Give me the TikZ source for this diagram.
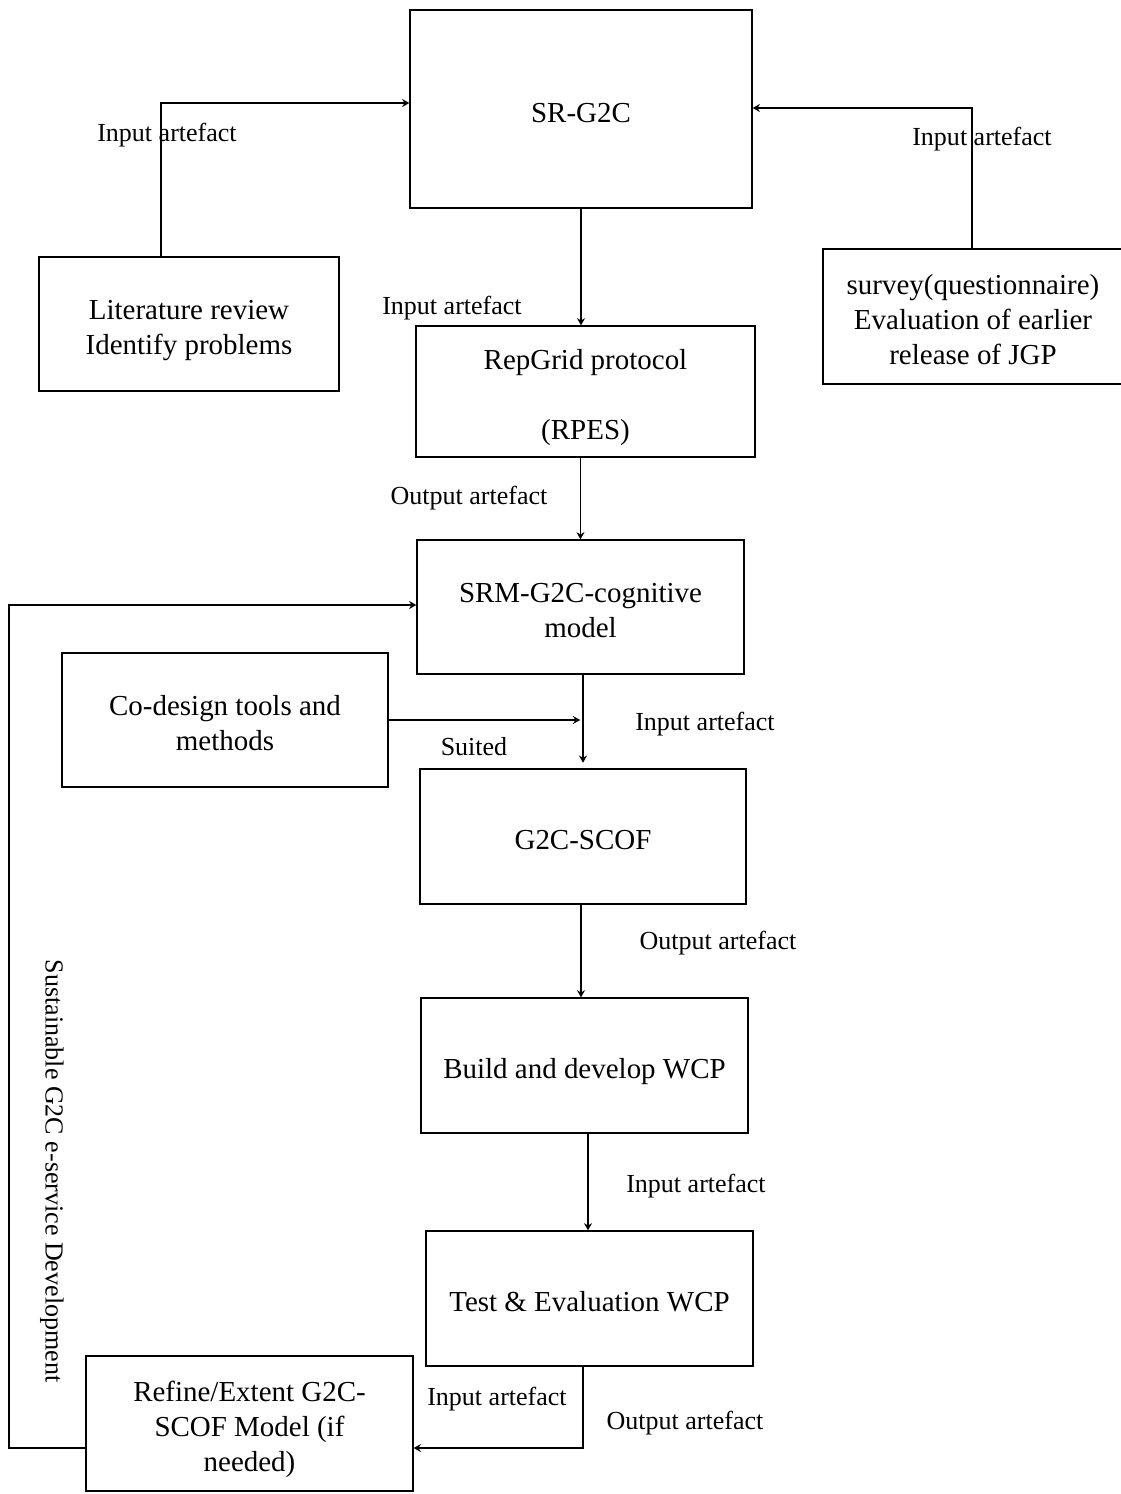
\documentclass[tikz,border=0pt]{standalone}
\usepackage{fontspec}
\setmainfont{Liberation Serif}
\usetikzlibrary{arrows.meta,calc,positioning}
\newcommand{\hautligne}{\rule{0pt}{18.5pt}}

\begin{document}
\begin{tikzpicture}[
		x=0.025cm, y=-0.025cm,
		boite/.style={draw, line width=0.9pt, align=center, inner sep=0pt,
			minimum width=8.175cm, minimum height=3.375cm,
			font=\fontsize{20.6}{24.9}\selectfont, text depth=0pt},
		etiq/.style={font=\fontsize{18.5}{22}\selectfont, inner sep=0pt},
		fleche/.style={draw, line width=0.9pt, -{Stealth[length=1.8mm,width=2mm]}}, % flèches fines
		]
		\useasboundingbox (0,0) rectangle (1120,1494);
		
		% Les boîtes
		\node[boite, minimum width=8.55cm, minimum height=4.95cm] (srg) at (581,109) {\hautligne SR-G2C};
		\node[boite, minimum width=7.5cm, minimum height=3.35cm] (lit) at (189,324) {\hautligne Literature review\\Identify problems};
		\node[boite, minimum width=7.5cm] (surv) at (973,316.5) {\hautligne survey(questionnaire)\\Evaluation of earlier\\release of JGP};
		\node[boite, minimum width=8.475cm, minimum height=3.275cm] (rep) at (585.5,391.5) {\hautligne RepGrid protocol\\~\\(RPES)};
		\node[boite, minimum height=3.35cm] (srm) at (580.5,607) {\hautligne SRM-G2C-cognitive\\model};
		\node[boite, minimum width=8.15cm, minimum height=3.35cm] (codes) at (225,720) {\hautligne Co-design tools and\\methods};
		\node[boite, minimum width=8.15cm] (scof) at (583,836.5) {\hautligne G2C-SCOF};
		\node[boite] (build) at (584.5,1065.5) {\hautligne Build and develop WCP};
		\node[boite] (test) at (589.5,1298.5) {\hautligne Test \& Evaluation WCP};
		\node[boite] (ref) at (249.5,1423.5) {\hautligne Refine/Extent G2C-\\SCOF Model (if\\needed)};
		
		% Les coins
		\coordinate (cl) at (161,103);
		\coordinate (cr) at (972,108);
		\coordinate (cb) at (583,1448);
		\coordinate (cg) at (9,605);
		
		% Les arêtes orientées
		\draw[fleche] (lit.north -| cl) -- (cl) -- (cl -| srg.west);
		\draw[fleche] (surv.north -| cr) -- (cr) -- (cr -| srg.east);
		\draw[fleche] (srg.south) -- (srg.south |- rep.north);
		\draw[fleche] (srm.north |- rep.south) -- (srm.north);
		\draw[fleche, shorten >=4] (scof.north |- srm.south) -- (scof.north);
		\draw[fleche, shorten >=2] (codes.east) -- (codes.east -| scof.north);
		\draw[fleche] (scof.south -| 581,0) -- (build.north -| 581,0);
		\draw[fleche] (build.south -| 588,0) -- (test.north -| 588,0);
		\draw[fleche] (test.south -| cb) -- (cb) -- (cb -| ref.east);
		\draw[fleche] (ref.west |- cb) -- (cb -| cg) -- (cg) -- (cg -| srm.west);
		
		% Les étiquettes
		\node[etiq] (e1) at (167,135) {Input artefact};
		\node[etiq] (e2) at (982,139) {Input artefact};
		\node[etiq] (e3) at (452,308) {Input artefact};
		\node[etiq] (e4) at (469,498) {Output artefact};
		\node[etiq] (e5) at (705,724) {Input artefact};
		\node[etiq] (e6) at (474,747) {Suited};
		\node[etiq] (e7) at (718,943) {Output artefact};
		\node[etiq] (e8) at (696,1186) {Input artefact};
		\node[etiq] (e9) at (497,1399) {Input artefact};
		\node[etiq] (e10) at (685,1423) {Output artefact};
		\node[etiq, rotate=-90] (e11) at (52,1171) {Sustainable G2C e-service Development};
	\end{tikzpicture}
\end{document}
